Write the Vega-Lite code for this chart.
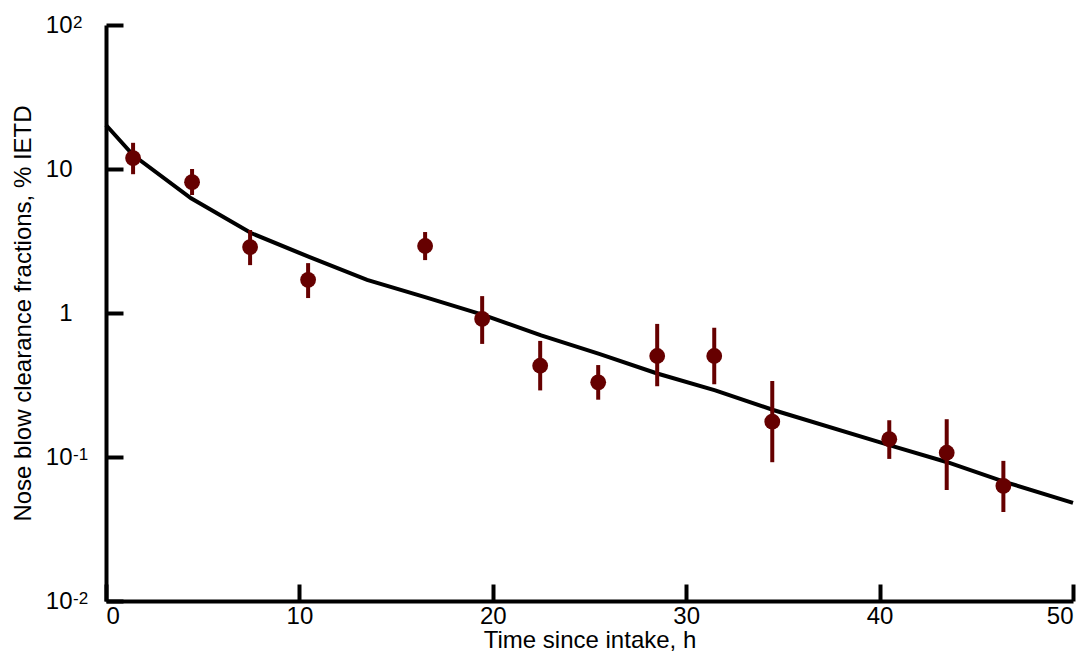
{
  "$schema": "https://vega.github.io/schema/vega-lite/v6.json",
  "width": 967,
  "height": 576,
  "autosize": {"type": "none"},
  "padding": {"left": 106, "top": 25, "right": 9, "bottom": 56},
  "background": "white",
  "config": {
    "view": {"stroke": null},
    "font": "Liberation Sans",
    "axis": {
      "domainColor": "black",
      "domainWidth": 4,
      "tickColor": "black",
      "tickWidth": 4,
      "tickSize": -17,
      "grid": false,
      "labelColor": "black",
      "labelFont": "Liberation Sans",
      "labelFontSize": 24,
      "titleFont": "Liberation Sans",
      "titleFontSize": 24,
      "titleFontWeight": "normal",
      "titleColor": "black"
    }
  },
  "datasets": {
    "obs": [
      {"t": 1.4, "v": 11.9, "lo": 9.2, "hi": 15.2},
      {"t": 4.45, "v": 8.1, "lo": 6.6, "hi": 10.0},
      {"t": 7.45, "v": 2.87, "lo": 2.15, "hi": 3.77},
      {"t": 10.45, "v": 1.7, "lo": 1.27, "hi": 2.22},
      {"t": 16.5, "v": 2.92, "lo": 2.33, "hi": 3.65},
      {"t": 19.45, "v": 0.91, "lo": 0.61, "hi": 1.31},
      {"t": 22.45, "v": 0.43, "lo": 0.29, "hi": 0.64},
      {"t": 25.45, "v": 0.33, "lo": 0.25, "hi": 0.435},
      {"t": 28.5, "v": 0.503, "lo": 0.31, "hi": 0.84},
      {"t": 31.45, "v": 0.503, "lo": 0.32, "hi": 0.79},
      {"t": 34.45, "v": 0.176, "lo": 0.092, "hi": 0.337},
      {"t": 40.5, "v": 0.133, "lo": 0.097, "hi": 0.18},
      {"t": 43.47, "v": 0.107, "lo": 0.059, "hi": 0.183},
      {"t": 46.4, "v": 0.063, "lo": 0.0415, "hi": 0.094}
    ],
    "fit": [
      {"t": 0, "f": 20.2},
      {"t": 1.4, "f": 12.5},
      {"t": 4.4, "f": 6.26},
      {"t": 7.5, "f": 3.59},
      {"t": 10.5, "f": 2.45},
      {"t": 13.5, "f": 1.7},
      {"t": 16.5, "f": 1.29},
      {"t": 19.5, "f": 0.97},
      {"t": 22.5, "f": 0.7},
      {"t": 25.5, "f": 0.52},
      {"t": 28.5, "f": 0.38},
      {"t": 31.5, "f": 0.29},
      {"t": 34.5, "f": 0.212},
      {"t": 40.5, "f": 0.121},
      {"t": 43.5, "f": 0.092},
      {"t": 46.5, "f": 0.067},
      {"t": 50, "f": 0.048}
    ],
    "exps": [
      {"v": 100, "e": "2"},
      {"v": 0.1, "e": "-1"},
      {"v": 0.01, "e": "-2"}
    ]
  },
  "layer": [
    {
      "data": {"name": "fit"},
      "mark": {"type": "line", "color": "black", "strokeWidth": 4, "clip": false},
      "encoding": {
        "x": {
          "field": "t", "type": "quantitative",
          "scale": {"domain": [0, 50], "nice": false},
          "axis": {
            "values": [0, 10, 20, 30, 40, 50],
            "title": "Time since intake, h",
            "labelFlush": true,
            "labelPadding": 20,
            "titlePadding": 0
          }
        },
        "y": {
          "field": "f", "type": "quantitative",
          "scale": {"type": "log", "domain": [0.01, 100], "nice": false},
          "axis": {
            "values": [0.01, 0.1, 1, 10, 100],
            "labelExpr": "datum.value == 1 ? '1' : '10'",
            "title": "Nose blow clearance fractions, % IETD",
            "labelPadding": 51,
            "titlePadding": 10
          }
        }
      }
    },
    {
      "data": {"name": "obs"},
      "mark": {"type": "rule", "color": "#660000", "strokeWidth": 4},
      "encoding": {
        "x": {"field": "t", "type": "quantitative"},
        "y": {"field": "lo", "type": "quantitative"},
        "y2": {"field": "hi"}
      }
    },
    {
      "data": {"name": "obs"},
      "mark": {"type": "point", "filled": true, "color": "#660000", "opacity": 1, "size": 250},
      "encoding": {
        "x": {"field": "t", "type": "quantitative"},
        "y": {"field": "v", "type": "quantitative"}
      }
    },
    {
      "data": {"name": "exps"},
      "mark": {"type": "text", "align": "left", "baseline": "alphabetic", "dx": -33, "dy": 3, "fontSize": 17, "font": "Liberation Sans", "color": "black", "clip": false},
      "encoding": {
        "x": {"datum": 0, "type": "quantitative"},
        "y": {"field": "v", "type": "quantitative"},
        "text": {"field": "e"}
      }
    }
  ]
}
